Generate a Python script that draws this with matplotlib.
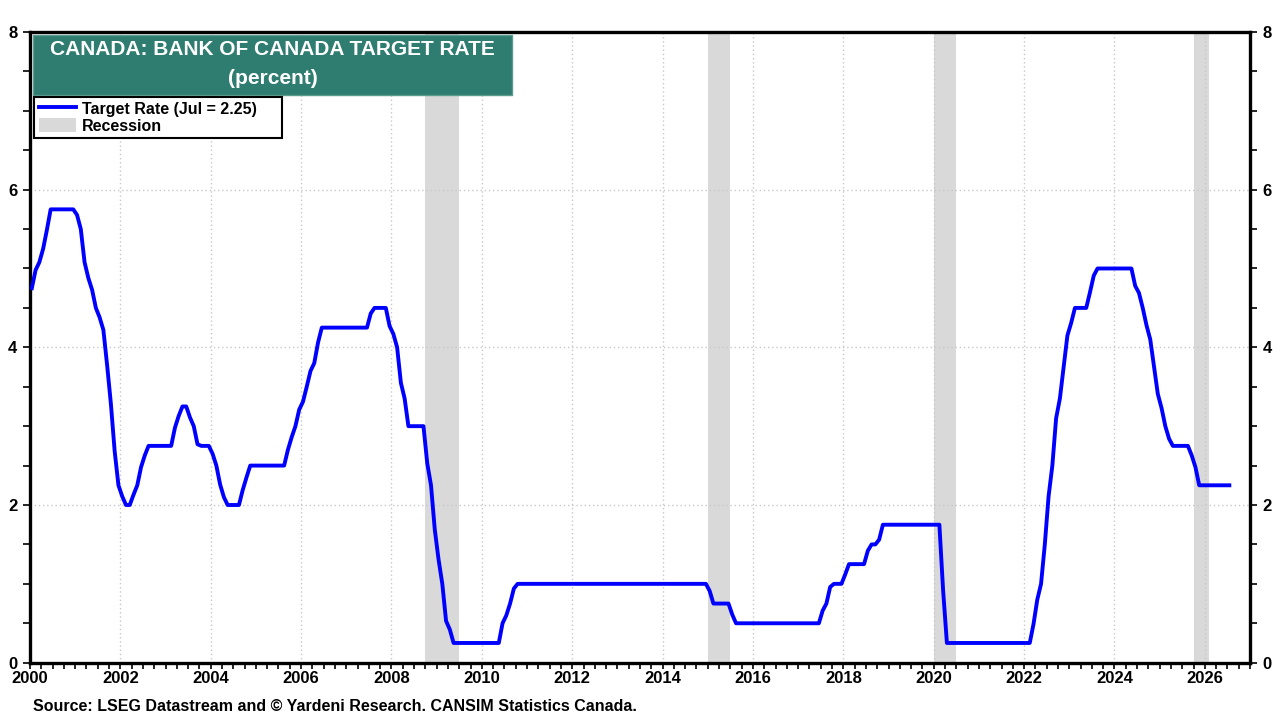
import numpy as np
import matplotlib
matplotlib.use("Agg")
import matplotlib.pyplot as plt
from matplotlib.patches import Rectangle, Patch
from matplotlib.lines import Line2D
from matplotlib.ticker import MultipleLocator

plt.rcParams['font.family'] = ['Liberation Sans', 'DejaVu Sans']
plt.rcParams['font.weight'] = 'bold'

# Bank of Canada target rate, monthly averages, Jan 2000 .. Jul 2026
start_year = 2000
rate = [
    4.75, 4.98, 5.08, 5.25, 5.49, 5.75, 5.75, 5.75, 5.75, 5.75, 5.75, 5.75,  # 2000
    5.68, 5.50, 5.08, 4.88, 4.73, 4.50, 4.38, 4.22, 3.77, 3.28, 2.68, 2.25,  # 2001
    2.11, 2.00, 2.00, 2.13, 2.25, 2.48, 2.63, 2.75, 2.75, 2.75, 2.75, 2.75,  # 2002
    2.75, 2.75, 2.98, 3.13, 3.25, 3.25, 3.11, 3.00, 2.77, 2.75, 2.75, 2.75,  # 2003
    2.65, 2.50, 2.26, 2.10, 2.00, 2.00, 2.00, 2.00, 2.19, 2.35, 2.50, 2.50,  # 2004
    2.50, 2.50, 2.50, 2.50, 2.50, 2.50, 2.50, 2.50, 2.70, 2.86, 3.00, 3.21,  # 2005
    3.31, 3.50, 3.70, 3.80, 4.06, 4.25, 4.25, 4.25, 4.25, 4.25, 4.25, 4.25,  # 2006
    4.25, 4.25, 4.25, 4.25, 4.25, 4.25, 4.43, 4.50, 4.50, 4.50, 4.50, 4.27,  # 2007
    4.17, 4.00, 3.55, 3.35, 3.00, 3.00, 3.00, 3.00, 3.00, 2.53, 2.25, 1.69,  # 2008
    1.31, 1.00, 0.53, 0.42, 0.25, 0.25, 0.25, 0.25, 0.25, 0.25, 0.25, 0.25,  # 2009
    0.25, 0.25, 0.25, 0.25, 0.25, 0.50, 0.60, 0.75, 0.94, 1.00, 1.00, 1.00,  # 2010
    1.00, 1.00, 1.00, 1.00, 1.00, 1.00, 1.00, 1.00, 1.00, 1.00, 1.00, 1.00,  # 2011
    1.00, 1.00, 1.00, 1.00, 1.00, 1.00, 1.00, 1.00, 1.00, 1.00, 1.00, 1.00,  # 2012
    1.00, 1.00, 1.00, 1.00, 1.00, 1.00, 1.00, 1.00, 1.00, 1.00, 1.00, 1.00,  # 2013
    1.00, 1.00, 1.00, 1.00, 1.00, 1.00, 1.00, 1.00, 1.00, 1.00, 1.00, 1.00,  # 2014
    0.91, 0.75, 0.75, 0.75, 0.75, 0.75, 0.61, 0.50, 0.50, 0.50, 0.50, 0.50,  # 2015
    0.50, 0.50, 0.50, 0.50, 0.50, 0.50, 0.50, 0.50, 0.50, 0.50, 0.50, 0.50,  # 2016
    0.50, 0.50, 0.50, 0.50, 0.50, 0.50, 0.66, 0.75, 0.96, 1.00, 1.00, 1.00,  # 2017
    1.12, 1.25, 1.25, 1.25, 1.25, 1.25, 1.42, 1.50, 1.50, 1.56, 1.75, 1.75,  # 2018
    1.75, 1.75, 1.75, 1.75, 1.75, 1.75, 1.75, 1.75, 1.75, 1.75, 1.75, 1.75,  # 2019
    1.75, 1.75, 0.91, 0.25, 0.25, 0.25, 0.25, 0.25, 0.25, 0.25, 0.25, 0.25,  # 2020
    0.25, 0.25, 0.25, 0.25, 0.25, 0.25, 0.25, 0.25, 0.25, 0.25, 0.25, 0.25,  # 2021
    0.25, 0.25, 0.49, 0.80, 1.00, 1.50, 2.11, 2.50, 3.10, 3.35, 3.75, 4.15,  # 2022
    4.31, 4.50, 4.50, 4.50, 4.50, 4.70, 4.91, 5.00, 5.00, 5.00, 5.00, 5.00,  # 2023
    5.00, 5.00, 5.00, 5.00, 5.00, 4.78, 4.69, 4.50, 4.28, 4.10, 3.75, 3.41,  # 2024
    3.23, 3.00, 2.84, 2.75, 2.75, 2.75, 2.75, 2.75, 2.63, 2.48, 2.25, 2.25,  # 2025
    2.25, 2.25, 2.25, 2.25, 2.25, 2.25, 2.25,                                # 2026
]
rec_start = [2008.75, 2015.0, 2020.0, 2025.75]
rec_end = [2009.5, 2015.5, 2020.5, 2026.1]

dates = start_year + (np.arange(len(rate)) + 0.5) / 12

fig = plt.figure(figsize=(12.8, 7.2), dpi=100)
ax = fig.add_axes([0.0234, 0.0796, 0.9532, 0.876])

for s, e in zip(rec_start, rec_end):
    ax.axvspan(s, e, color='#d9d9d9', lw=0, zorder=1)

ax.plot(dates, rate, color='#0000ff', lw=2.8, zorder=3)

ax.set_xlim(2000, 2027)
ax.set_ylim(0, 8)
ax.xaxis.set_major_locator(MultipleLocator(2))
ax.xaxis.set_minor_locator(MultipleLocator(0.25))
ax.yaxis.set_major_locator(MultipleLocator(2))
ax.yaxis.set_minor_locator(MultipleLocator(0.5))
ax.grid(which='major', color='#c8c8c8', ls=(0, (1, 2)), lw=1, zorder=0)
ax.tick_params(axis='x', which='both', direction='out', length=4, width=1.2,
               labelsize=12, pad=2)
ax.tick_params(axis='y', which='both', direction='out', length=5, width=1.2,
               labelsize=12, right=True, labelright=True, pad=4)
for sp in ax.spines.values():
    sp.set_linewidth(2.4)
ax.set_xticklabels([str(int(v)) for v in ax.get_xticks()], fontweight='bold')

# title box
ax.add_patch(Rectangle((0.0025, 0.900), 0.3925, 0.095, transform=ax.transAxes,
                       facecolor='#2e7d70', edgecolor='#5a9c90', lw=1, zorder=5))
ax.text(0.199, 0.972, 'CANADA: BANK OF CANADA TARGET RATE', transform=ax.transAxes,
        color='white', fontsize=15, fontweight='bold', ha='center', va='center', zorder=6)
ax.text(0.199, 0.926, '(percent)', transform=ax.transAxes,
        color='white', fontsize=15, fontweight='bold', ha='center', va='center', zorder=6)

handles = [Line2D([], [], color='#0000ff', lw=2.8),
           Patch(facecolor='#d9d9d9', edgecolor='none')]
leg = ax.legend(handles, ['Target Rate (Jul = 2.25)', 'Recession'],
                loc='upper left', bbox_to_anchor=(0.0033, 0.8295, 0.2033, 0.068),
                mode='expand', fancybox=False, framealpha=1, edgecolor='black',
                prop={'size': 11.5, 'weight': 'bold'}, borderaxespad=0,
                handlelength=2.3, handleheight=0.9, handletextpad=0.4,
                labelspacing=0.12, borderpad=0.3)
leg.get_frame().set_linewidth(1.5)
leg.set_zorder(7)

fig.text(0.0258, 0.0194,
         'Source: LSEG Datastream and \u00a9 Yardeni Research. CANSIM Statistics Canada.',
         fontsize=11.5, fontweight='bold', va='center', ha='left')

fig.savefig('out.png', dpi=100)
